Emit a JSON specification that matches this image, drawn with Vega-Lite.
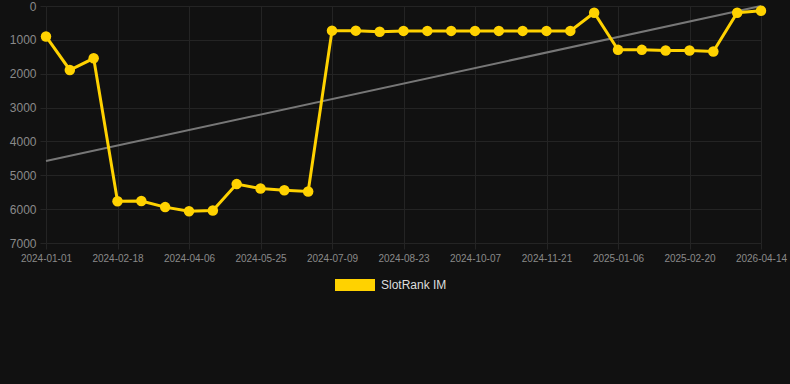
{
  "$schema": "https://vega.github.io/schema/vega-lite/v6.json",
  "width": 744,
  "height": 237,
  "autosize": {"type": "none"},
  "padding": {"left": 46, "top": 6, "right": 0, "bottom": 141},
  "background": "#111111",
  "config": {
    "view": {"stroke": null},
    "font": "Liberation Sans",
    "axis": {"gridColor": "#242424", "gridWidth": 1, "domain": false, "tickColor": "#242424", "tickSize": 6, "labelColor": "#8a8a8a", "labelPadding": 4, "title": null}
  },
  "data": {
    "values": [
      {"date": "2024-01-01", "rank": 900, "trend": 4580},
      {"date": "2024-01-17", "rank": 1890, "trend": null},
      {"date": "2024-02-02", "rank": 1545, "trend": null},
      {"date": "2024-02-18", "rank": 5765, "trend": null},
      {"date": "2024-03-05", "rank": 5760, "trend": null},
      {"date": "2024-03-21", "rank": 5940, "trend": null},
      {"date": "2024-04-06", "rank": 6060, "trend": null},
      {"date": "2024-04-22", "rank": 6040, "trend": null},
      {"date": "2024-05-09", "rank": 5260, "trend": null},
      {"date": "2024-05-25", "rank": 5390, "trend": null},
      {"date": "2024-06-09", "rank": 5440, "trend": null},
      {"date": "2024-06-24", "rank": 5480, "trend": null},
      {"date": "2024-07-09", "rank": 728, "trend": null},
      {"date": "2024-07-24", "rank": 728, "trend": null},
      {"date": "2024-08-08", "rank": 760, "trend": null},
      {"date": "2024-08-23", "rank": 735, "trend": null},
      {"date": "2024-09-07", "rank": 735, "trend": null},
      {"date": "2024-09-22", "rank": 735, "trend": null},
      {"date": "2024-10-07", "rank": 735, "trend": null},
      {"date": "2024-10-22", "rank": 735, "trend": null},
      {"date": "2024-11-06", "rank": 735, "trend": null},
      {"date": "2024-11-21", "rank": 735, "trend": null},
      {"date": "2024-12-06", "rank": 735, "trend": null},
      {"date": "2024-12-21", "rank": 200, "trend": null},
      {"date": "2025-01-06", "rank": 1295, "trend": null},
      {"date": "2025-01-21", "rank": 1295, "trend": null},
      {"date": "2025-02-05", "rank": 1315, "trend": null},
      {"date": "2025-02-20", "rank": 1315, "trend": null},
      {"date": "2025-03-07", "rank": 1345, "trend": null},
      {"date": "2026-03-30", "rank": 200, "trend": null},
      {"date": "2026-04-14", "rank": 140, "trend": 0}
    ]
  },
  "encoding": {
    "x": {
      "field": "date",
      "type": "ordinal",
      "sort": null,
      "scale": {
        "type": "point",
        "range": [0, 715],
        "padding": 0,
        "domain": ["2024-01-01", "2024-01-17", "2024-02-02", "2024-02-18", "2024-03-05", "2024-03-21", "2024-04-06", "2024-04-22", "2024-05-09", "2024-05-25", "2024-06-09", "2024-06-24", "2024-07-09", "2024-07-24", "2024-08-08", "2024-08-23", "2024-09-07", "2024-09-22", "2024-10-07", "2024-10-22", "2024-11-06", "2024-11-21", "2024-12-06", "2024-12-21", "2025-01-06", "2025-01-21", "2025-02-05", "2025-02-20", "2025-03-07", "2026-03-30", "2026-04-14"]
      },
      "axis": {
        "values": ["2024-01-01", "2024-02-18", "2024-04-06", "2024-05-25", "2024-07-09", "2024-08-23", "2024-10-07", "2024-11-21", "2025-01-06", "2025-02-20", "2026-04-14"],
        "labelAngle": 0,
        "labelFontSize": 10,
        "grid": true
      }
    }
  },
  "layer": [
    {
      "transform": [{"filter": "datum.trend != null"}],
      "mark": {"type": "line", "color": "#777777", "strokeWidth": 2},
      "encoding": {
        "y": {
          "field": "trend",
          "type": "quantitative",
          "scale": {"domain": [0, 7000], "reverse": true, "nice": false},
          "axis": {"values": [0, 1000, 2000, 3000, 4000, 5000, 6000, 7000], "format": "d", "labelFontSize": 12, "grid": true}
        }
      }
    },
    {
      "mark": {"type": "line", "strokeWidth": 3, "point": {"filled": true, "size": 110, "opacity": 1}},
      "encoding": {
        "y": {
          "field": "rank",
          "type": "quantitative",
          "scale": {"domain": [0, 7000], "reverse": true, "nice": false},
          "axis": {"values": [0, 1000, 2000, 3000, 4000, 5000, 6000, 7000], "format": "d", "labelFontSize": 12, "grid": true}
        },
        "color": {
          "datum": "SlotRank IM",
          "type": "nominal",
          "scale": {"range": ["#FFD200"]},
          "legend": {
            "orient": "none",
            "legendX": 289,
            "legendY": 259,
            "title": null,
            "padding": 0,
            "symbolType": "M-1,-0.3H1V0.3H-1Z",
            "symbolSize": 1600,
            "symbolStrokeWidth": 0,
            "symbolOpacity": 1,
            "labelColor": "#dddddd",
            "labelFontSize": 12,
            "labelOffset": 6
          }
        }
      }
    }
  ]
}
